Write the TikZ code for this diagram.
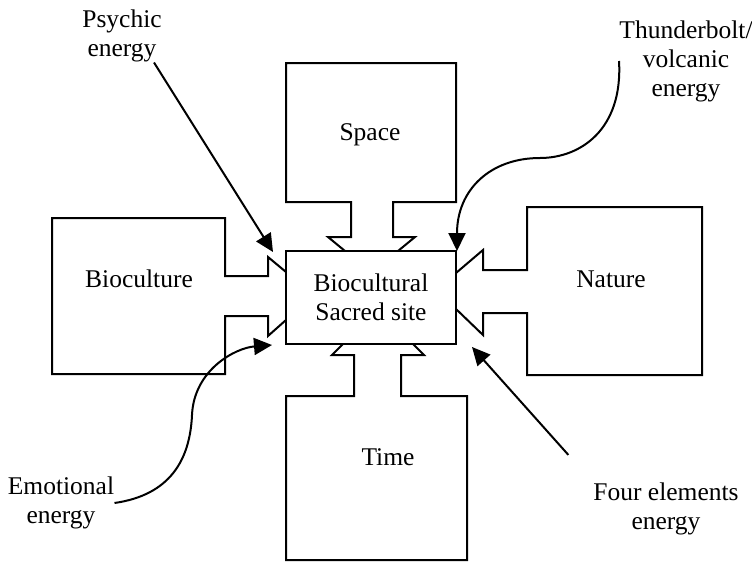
\documentclass[tikz,border=0pt]{standalone}
\usepackage{fontspec}
\setmainfont{Liberation Serif}
\usetikzlibrary{positioning, arrows.meta, calc}

\begin{document}
\begin{tikzpicture}[x=0.5pt, y=-0.5pt,
        outline/.style={black, line width=1pt},
        word/.style={inner sep=0pt, align=center, font=\fontsize{12.75}{14.5}\selectfont},
        energy/.style={black, line width=1pt, -{Triangle[length=9pt, width=8.5pt]}}]
        \useasboundingbox (0,0) rectangle (752,563);

        % centre box
        \node[outline, draw, word, minimum width=85pt, minimum height=46.5pt] (site) at (371,297.5) {Biocultural\\Sacred site};

        % space, on top
        \draw[outline] (345,251) -- (328,237) -- (351,237) -- (351,202) -- (286,202) -- (286,63)
            -- (456,63) -- (456,202) -- (393,202) -- (393,237) -- (415,237) -- (398,251);

        % time, below
        \draw[outline] (343,344) -- (332,355) -- (354,355) -- (354,396) -- (286,396) -- (286,560)
            -- (467,560) -- (467,396) -- (401,396) -- (401,355) -- (424,355) -- (413,344);

        % bioculture, left
        \draw[outline] (286,272) -- (268,257) -- (268,276) -- (225,276) -- (225,218) -- (52,218)
            -- (52,374) -- (225,374) -- (225,316) -- (268,316) -- (268,336) -- (286,320);

        % nature, right
        \draw[outline] (456,273) -- (483,250) -- (483,270) -- (527,270) -- (527,207) -- (702,207)
            -- (702,375) -- (527,375) -- (527,313) -- (483,313) -- (483,335) -- (456,309);

        \node[word] (space) at (370,135) {Space};
        \node[word] (time) at (388,457) {Time};
        \node[word] (bioculture) at (139,279) {Bioculture};
        \node[word] (nature) at (611,279) {Nature};

        % energies
        \node[word] (psychic) at (122,36) {Psychic\\energy};
        \node[word] (thunder) at (686,61) {Thunderbolt/\\volcanic\\energy};
        \node[word] (emotional) at (61,503) {Emotional\\energy};
        \node[word] (four) at (666,509) {Four elements\\energy};

        \coordinate (psychictip) at (273,252);
        \coordinate (thundertip) at (457,251);
        \coordinate (emotionaltip) at (272,345);
        \coordinate (fourtip) at (472,347);

        \draw[energy] ($(psychic.south)+(32,0)$) -- (psychictip);
        \draw[energy] (thunder.west) .. controls (623,130) and (580,158) .. (540,158)
            .. controls (490,158) and (457,190) .. (thundertip);
        \draw[energy] (emotional.east) .. controls (170,495) and (190,460) .. (192,415)
            .. controls (194,370) and (235,348) .. (emotionaltip);
        \draw[energy, shorten <=18.5pt] (four.north west) -- (fourtip);
    \end{tikzpicture}
\end{document}
